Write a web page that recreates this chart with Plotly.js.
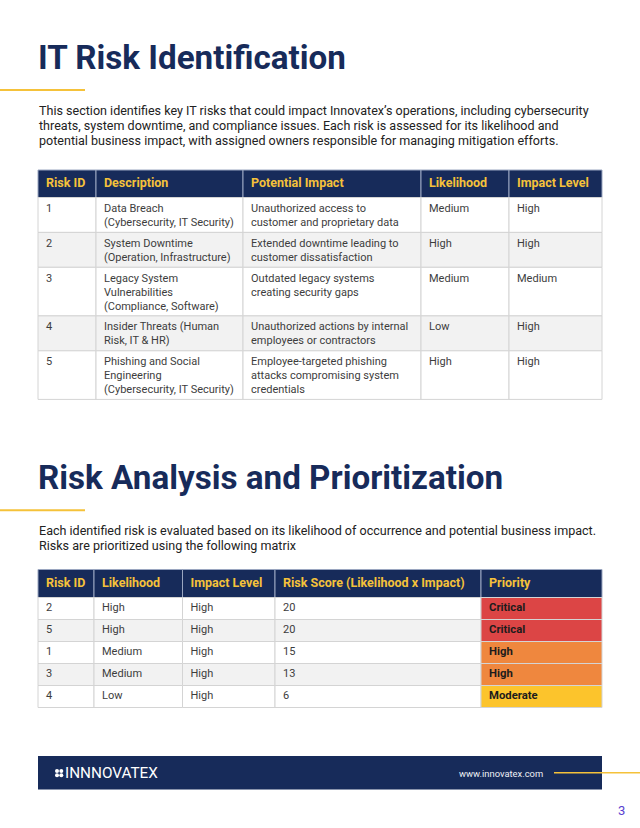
<!DOCTYPE html>
<html><head><meta charset="utf-8">
<script src="https://cdn.plot.ly/plotly-3.0.1.min.js"></script>
<style>html,body{margin:0;padding:0;background:#fff;}#chart{width:640px;height:828px;}</style>
</head><body><div id="chart"></div>
<script>
// ---------------- Data ----------------
const intro1Lines = [
  "This section identifies key IT risks that could impact Innovatex’s operations, including cybersecurity",
  "threats, system downtime, and compliance issues. Each risk is assessed for its likelihood and",
  "potential business impact, with assigned owners responsible for managing mitigation efforts."
];
const intro2Lines = [
  "Each identified risk is evaluated based on its likelihood of occurrence and potential business impact.",
  "Risks are prioritized using the following matrix"
];

// Table 1: IT Risk Identification
const t1Headers = ["Risk ID", "Description", "Potential Impact", "Likelihood", "Impact Level"];
const t1RiskId = ["1", "2", "3", "4", "5"];
const t1Description = [
  "Data Breach<br>(Cybersecurity, IT Security)",
  "System Downtime<br>(Operation, Infrastructure)",
  "Legacy System<br>Vulnerabilities<br>(Compliance, Software)",
  "Insider Threats (Human<br>Risk, IT &amp; HR)",
  "Phishing and Social<br>Engineering<br>(Cybersecurity, IT Security)"
];
const t1Impact = [
  "Unauthorized access to<br>customer and proprietary data",
  "Extended downtime leading to<br>customer dissatisfaction",
  "Outdated legacy systems<br>creating security gaps",
  "Unauthorized actions by internal<br>employees or contractors",
  "Employee-targeted phishing<br>attacks compromising system<br>credentials"
];
const t1Likelihood = ["Medium", "High", "Medium", "Low", "High"];
const t1ImpactLevel = ["High", "High", "Medium", "High", "High"];

// Table 2: Risk Analysis and Prioritization
const t2Headers = ["Risk ID", "Likelihood", "Impact Level", "Risk Score (Likelihood x Impact)", "Priority"];
const t2RiskId = ["2", "5", "1", "3", "4"];
const t2Likelihood = ["High", "High", "Medium", "Medium", "Low"];
const t2ImpactLevel = ["High", "High", "High", "High", "High"];
const t2Score = [20, 20, 15, 13, 6];
const t2Priority = ["Critical", "Critical", "High", "High", "Moderate"];

// ---------------- Styles ----------------
const W = 640, H = 828;
const NAVY = "#172b5a", GOLD = "#f5c23a", TXT = "#3d3d3d";
const FONT = "Roboto, 'Liberation Sans', sans-serif";
const priorityColor = {Critical: "#dc4545", High: "#ef873e", Moderate: "#fcc42c"};

const traces = [];
const shapes = [];
const annotations = [];

function buildTable(cfg) {
  const nRows = cfg.columns[0].length;
  const lines = cfg.columns.map(col => col.map(v => String(v).split("<br>")));
  const rowH = [];
  for (let r = 0; r < nRows; r++) {
    const n = Math.max(...lines.map(col => col[r].length));
    rowH.push(Math.max(cfg.minRowH, cfg.rowBase + cfg.rowPerLine * n));
  }
  const edges = cfg.edges;
  const headerBottom = cfg.top + cfg.headerH;
  // header cells
  for (let c = 0; c < edges.length - 1; c++) {
    shapes.push({type: "rect", xref: "x", yref: "y", x0: edges[c], x1: edges[c + 1],
      y0: cfg.top, y1: headerBottom, fillcolor: NAVY, line: {color: "#9aa6c0", width: 1}, layer: "below"});
  }
  traces.push({type: "scatter", mode: "text", x: edges.slice(0, -1).map(e => e + cfg.pad),
    y: cfg.headers.map(() => cfg.top + cfg.headerH / 2 + 0.5), text: cfg.headers.map(h => "<b>" + h + "</b>"),
    textposition: "middle right", textfont: {family: FONT, size: 12.5, color: GOLD},
    marker: {size: 0}, hoverinfo: "skip", cliponaxis: false});
  // body cells
  let y = headerBottom;
  for (let r = 0; r < nRows; r++) {
    for (let c = 0; c < edges.length - 1; c++) {
      const fill = (cfg.fillOverride && cfg.fillOverride(r, c)) || (r % 2 ? "#f2f2f2" : "#ffffff");
      shapes.push({type: "rect", xref: "x", yref: "y", x0: edges[c], x1: edges[c + 1],
        y0: y, y1: y + rowH[r], fillcolor: fill, line: {color: "#d4d4d4", width: 1}, layer: "below"});
    }
    y += rowH[r];
  }
  // body text, one trace per column
  for (let c = 0; c < edges.length - 1; c++) {
    const xs = [], ys = [], ts = [];
    let top = headerBottom;
    for (let r = 0; r < nRows; r++) {
      lines[c][r].forEach((ln, k) => {
        xs.push(edges[c] + cfg.pad);
        ys.push(top + cfg.firstLine + k * cfg.linePitch);
        ts.push(cfg.bold && cfg.bold(c) ? "<b>" + ln + "</b>" : ln);
      });
      top += rowH[r];
    }
    const isBold = cfg.bold && cfg.bold(c);
    traces.push({type: "scatter", mode: "text", x: xs, y: ys, text: ts,
      textposition: "middle right",
      textfont: {family: FONT, size: isBold ? 11.3 : 11, color: isBold ? "#1c1c1c" : TXT},
      marker: {size: 0}, hoverinfo: "skip", cliponaxis: false});
  }
}

buildTable({
  top: 170, headerH: 27.5, edges: [38, 96, 243, 421, 509, 602], pad: 8,
  headers: t1Headers,
  columns: [t1RiskId, t1Description, t1Impact, t1Likelihood, t1ImpactLevel],
  minRowH: 22, rowBase: 7.5, rowPerLine: 13.7, firstLine: 11.5, linePitch: 14
});

buildTable({
  top: 569.5, headerH: 28, edges: [38, 94, 182.5, 275, 481, 602], pad: 8,
  headers: t2Headers,
  columns: [t2RiskId, t2Likelihood, t2ImpactLevel, t2Score, t2Priority],
  minRowH: 22, rowBase: 8, rowPerLine: 14, firstLine: 11, linePitch: 14,
  fillOverride: (r, c) => c === 4 ? priorityColor[t2Priority[r]] : null,
  bold: c => c === 4
});

// ---------------- Page text & decorations ----------------
const ann = (x, y, text, font, opts) => Object.assign({
  xref: "x", yref: "y", x: x, y: y, text: text, showarrow: false,
  xanchor: "left", yanchor: "middle", align: "left", font: font, borderpad: 0
}, opts || {});

annotations.push(ann(37, 57, "<b>IT Risk Identification</b>", {family: FONT, size: 33.2, color: NAVY}));
intro1Lines.forEach((t, i) => annotations.push(ann(38, 110 + i * 15, t, {family: FONT, size: 12.55, color: "#222222"})));
annotations.push(ann(37, 477, "<b>Risk Analysis and Prioritization</b>", {family: FONT, size: 33.2, color: NAVY}));
intro2Lines.forEach((t, i) => annotations.push(ann(38, 530 + i * 15, t, {family: FONT, size: 12.55, color: "#222222"})));
annotations.push(ann(63.5, 773, "INNNOVATEX", {family: FONT, size: 15.3, color: "#ffffff"}));
annotations.push(ann(544, 773, "www.innovatex.com", {family: FONT, size: 9.4, color: "#eef0f5"}, {xanchor: "right"}));
annotations.push(ann(621, 810.5, "3", {family: FONT, size: 13, color: "#5b3fd0"}, {xanchor: "center"}));

const line = (x0, x1, y, color, w) => ({type: "line", xref: "x", yref: "y", x0: x0, x1: x1, y0: y, y1: y, line: {color: color, width: w}});
shapes.push(line(0, 85, 90, GOLD, 2));
shapes.push(line(0, 85, 510.3, GOLD, 2));
shapes.push({type: "rect", xref: "x", yref: "y", x0: 38, x1: 602, y0: 756, y1: 789.5, fillcolor: NAVY, line: {width: 0}, layer: "below"});
shapes.push(line(554, 640, 772.7, GOLD, 1.5));
// logo mark (2x2 rounded marks)
[[55, 769], [59.3, 769], [55, 773.3], [59.3, 773.3]].forEach(p => shapes.push({
  type: "circle", xref: "x", yref: "y", x0: p[0], x1: p[0] + 4, y0: p[1], y1: p[1] + 4,
  fillcolor: "#ffffff", line: {width: 0}, layer: "above"}));

const layout = {
  width: W, height: H, margin: {l: 0, r: 0, t: 0, b: 0, pad: 0},
  paper_bgcolor: "#ffffff", plot_bgcolor: "#ffffff", showlegend: false,
  xaxis: {range: [0, W], visible: false, fixedrange: true},
  yaxis: {range: [H, 0], visible: false, fixedrange: true},
  annotations: annotations, shapes: shapes, font: {family: FONT}
};

Plotly.newPlot("chart", traces, layout, {displayModeBar: false, staticPlot: true});
</script>
</body></html>
